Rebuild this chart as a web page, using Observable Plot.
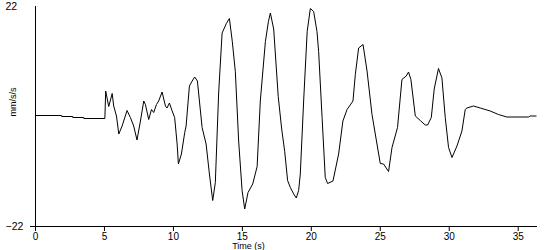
<!DOCTYPE html>
<html>
<head>
<meta charset="utf-8">
<script src="https://cdn.jsdelivr.net/npm/d3@7"></script>
<script src="https://cdn.jsdelivr.net/npm/@observablehq/plot@0.6"></script>
<style>
  html, body { margin: 0; padding: 0; background: #fff; }
</style>
</head>
<body>
<div id="chart"></div>
<script>
// Time (s)
const time = [
  0, 1.9, 1.9, 2.7, 2.7, 3.5, 3.5, 5.03, 5.09, 5.31, 5.56, 5.67, 5.87, 6.04, 6.28, 6.64, 6.88, 7.12, 7.36,
  7.61, 7.85, 7.97, 8.21, 8.41, 8.57, 8.77, 8.93, 9.18, 9.42, 9.54, 9.71, 9.91, 10.09, 10.27, 10.36,
  10.58, 10.82, 10.92, 11.16, 11.36, 11.54, 11.74, 12.08, 12.37, 12.61, 12.85, 13.04, 13.28, 13.53,
  13.84, 14.06, 14.27, 14.49, 14.73, 14.98, 15.17, 15.41, 15.75, 16.07, 16.30, 16.67, 16.89, 17.03,
  17.27, 17.6, 17.85, 18.07, 18.28, 18.48, 18.72, 18.91, 19.08, 19.2, 19.45, 19.70, 19.93, 20.17,
  20.41, 20.53, 20.78, 21.01, 21.18, 21.57, 21.98, 22.29, 22.59, 23.02, 23.19, 23.43, 23.75, 24.04,
  24.40, 24.76, 25.0, 25.24, 25.60, 25.85, 26.25, 26.57, 26.88, 27.05, 27.22, 27.54, 27.90, 28.26,
  28.43, 28.70, 28.91, 29.22, 29.47, 29.71, 29.95, 30.20, 30.56, 30.92, 31.16, 31.28, 31.76, 32.25,
  32.97, 33.57, 34.18, 35.75, 35.87, 36.3
];
// Acceleration (mm/s/s)
const accel = [
  0.2, 0.2, 0.0, 0.0, -0.2, -0.2, -0.4, -0.4, 5.1, 2.0, 4.6, 2.1, 0.1, -3.5, -1.9, 1.2, -0.2, -1.9, -4.7,
  -0.9, 3.1, 2.4, -0.6, 1.4, 0.8, 2.4, 3.1, 4.9, 2.1, 1.7, 2.7, 1.1, -0.2, -5.5, -9.5,
  -7.5, -3.2, -1.9, 6.1, 7.1, 7.9, 7.1, -2.2, -5.5, -11.5, -16.8, -13.2, 4.7, 16.7,
  18.6, 19.6, 15.0, 9.0, -4.9, -14.8, -18.5, -15.2, -13.5, -10.0, 3.1, 15.0, 19.0, 20.7,
  17.5, 4.0, -2.5, -7.0, -12.8, -14.2, -15.5, -16.3, -14.8, -11.5, 3.5, 17.0, 21.6, 21.0,
  17.0, 13.0, -0.2, -12.2, -13.4, -12.9, -7.5, -0.9, 1.4, 3.1, 8.4, 13.7, 14.4, 9.1,
  0.4, -5.5, -9.4, -9.5, -11.0, -6.2, -2.2, 7.4, 8.1, 8.9, 7.4, 0.1, -0.8, -1.7,
  -1.7, -0.2, 5.5, 9.6, 7.7, -0.2, -6.2, -8.2, -5.9, -2.9, 1.4, 1.7, 2.1, 1.7,
  1.1, 0.4, -0.1, -0.1, 0.1, 0.1
];
const xTicks = [0, 5, 10, 15, 20, 25, 30, 35];
const yTicks = [-22, 22];
const xLabel = "Time (s)";
const yLabel = "mm/s/s";

const data = time.map((t, i) => ({t, a: accel[i]}));

const chart = Plot.plot({
  width: 550,
  height: 250,
  marginLeft: 35,
  marginRight: 13,
  marginTop: 6,
  marginBottom: 24,
  x: {domain: [0, 36.4]},
  y: {domain: [-22, 22]},
  style: {fontFamily: "'Liberation Sans', Arial, sans-serif", fontSize: "10px", color: "black", background: "white"},
  marks: [
    Plot.ruleX([0], {stroke: "black"}),
    Plot.ruleY([-22], {stroke: "black"}),
    Plot.axisX({ticks: xTicks, tickSize: 5, tickPadding: 1, label: null, strokeOpacity: 1, fontSize: 10}),
    Plot.axisY({ticks: [-22], tickSize: 5, tickFormat: () => "", label: null, strokeOpacity: 1}),
    Plot.axisY({ticks: yTicks, tickSize: 0, tickPadding: 30, textAnchor: "start", label: null, fontSize: 10.5}),
    Plot.text([yLabel], {frameAnchor: "left", dx: -22, rotate: -90, fontSize: 9}),
    Plot.text([xLabel], {frameAnchor: "bottom", lineAnchor: "middle", dy: 20, dx: -38, fontSize: 9}),
    Plot.line(data, {x: "t", y: "a", stroke: "black", strokeWidth: 1})
  ]
});
document.getElementById("chart").appendChild(chart);
</script>
</body>
</html>
